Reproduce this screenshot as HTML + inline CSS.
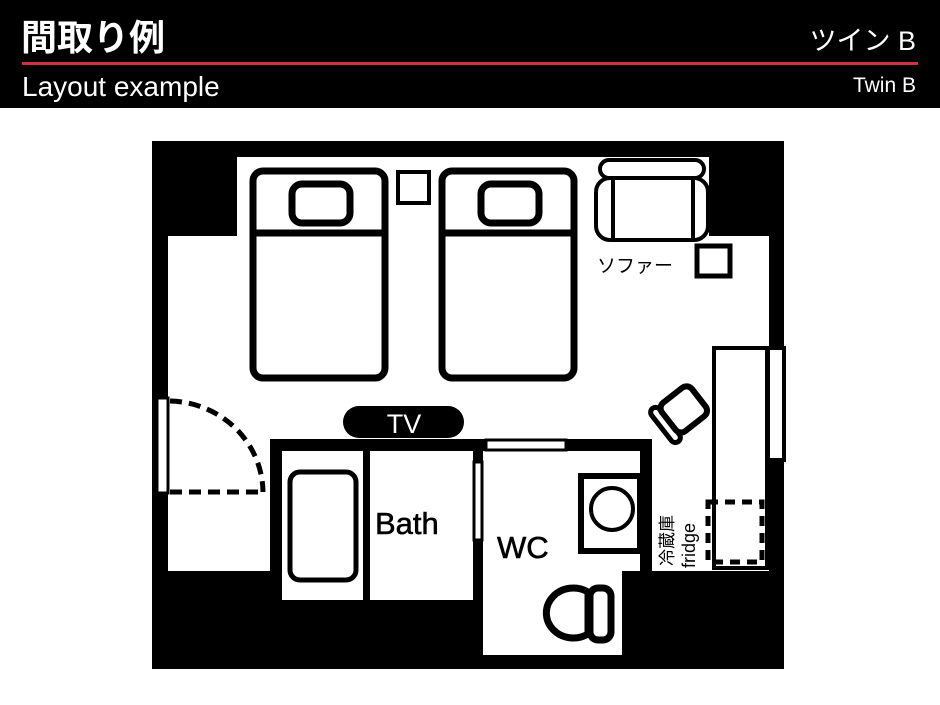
<!DOCTYPE html>
<html><head><meta charset="utf-8"><style>
html,body{margin:0;padding:0;background:#fff;width:940px;height:705px;overflow:hidden}
</style></head><body>
<svg width="940" height="705" xmlns="http://www.w3.org/2000/svg" font-family="Liberation Sans, Noto Sans CJK JP, sans-serif">
<rect x="0" y="0" width="940" height="108" fill="#000"/>
<text x="21" y="50" fill="#fff" font-size="36" font-weight="bold" font-family="Noto Sans CJK JP, sans-serif">間取り例</text>
<text x="916" y="50" fill="#fff" font-size="27" text-anchor="end" font-family="Liberation Sans, Noto Sans CJK JP, sans-serif">ツイン B</text>
<rect x="22" y="62" width="896" height="3" fill="#d03040"/>
<text x="22" y="96" fill="#fff" font-size="28">Layout example</text>
<text x="916" y="92" fill="#fff" font-size="21" text-anchor="end">Twin B</text>

<rect x="152" y="141" width="632" height="528" fill="#000"/>
<polygon points="237,157 709,157 709,236 769,236 769,571 652,571 652,439 270,439 270,571 168,571 168,236 237,236" fill="#fff"/>
<rect x="282" y="451" width="81" height="149" fill="#fff"/>
<rect x="370" y="451" width="103" height="149" fill="#fff"/>
<polygon points="483,451 640,451 640,571 622,571 622,655 483,655" fill="#fff"/>

<g fill="none" stroke="#000" stroke-width="7">
<rect x="253" y="171" width="132" height="207" rx="10"/>
<line x1="253" y1="233" x2="385" y2="233"/>
<rect x="292" y="184" width="58" height="39" rx="10"/>
<rect x="442" y="171" width="132" height="207" rx="10"/>
<line x1="442" y1="233" x2="574" y2="233"/>
<rect x="481" y="184" width="58" height="39" rx="10"/>
</g>
<rect x="398" y="172" width="31" height="31" fill="none" stroke="#000" stroke-width="4"/>
<g fill="none" stroke="#000" stroke-width="4">
<rect x="600" y="160" width="104" height="18" rx="9"/>
<rect x="596" y="178" width="112" height="62" rx="14"/>
<line x1="613" y1="180" x2="613" y2="240"/>
<line x1="693" y1="180" x2="693" y2="240"/>
</g>
<rect x="697" y="246" width="33" height="30" fill="none" stroke="#000" stroke-width="5"/>
<text x="597" y="272" font-size="19" font-family="Noto Sans CJK JP, sans-serif">ソファー</text>

<rect x="343" y="406" width="121" height="32" rx="16" fill="#000"/>
<text x="404" y="433" fill="#fff" font-size="27" text-anchor="middle">TV</text>

<rect x="157" y="398" width="11" height="95" fill="#fff" stroke="#000" stroke-width="3"/>
<g fill="none" stroke="#000" stroke-width="5" stroke-dasharray="12,7">
<path d="M170,401 A95,92 0 0 1 263,492"/>
<line x1="170" y1="492" x2="265" y2="492"/>
</g>

<rect x="290" y="472" width="66" height="108" rx="10" fill="none" stroke="#000" stroke-width="5"/>
<text x="375" y="534" font-size="31" stroke="#000" stroke-width="0.6">Bath</text>
<rect x="474" y="462" width="8" height="78" fill="#fff" stroke="#000" stroke-width="3"/>
<rect x="486" y="440" width="80" height="10" fill="#fff" stroke="#000" stroke-width="3"/>

<text x="497" y="558" font-size="31" stroke="#000" stroke-width="0.6">WC</text>
<rect x="581" y="476" width="59" height="75" fill="none" stroke="#000" stroke-width="6"/>
<circle cx="612" cy="509" r="21" fill="none" stroke="#000" stroke-width="4"/>
<g fill="none" stroke="#000" stroke-width="7">
<path d="M588,592 A27,25 0 1 0 588,634 Z"/>
<rect x="590" y="588" width="21" height="52" rx="8"/>
</g>

<rect x="714" y="348" width="53" height="220" fill="#fff" stroke="#000" stroke-width="4"/>
<rect x="768" y="348" width="16" height="112" fill="#fff" stroke="#000" stroke-width="4"/>
<g transform="translate(683,410) rotate(-38)">
<rect x="-18" y="-18" width="38" height="36" rx="7" fill="none" stroke="#000" stroke-width="6"/>
<rect x="-28" y="-20" width="10" height="42" rx="5" fill="none" stroke="#000" stroke-width="5"/>
</g>
<rect x="708" y="502" width="54" height="60" fill="none" stroke="#000" stroke-width="5" stroke-dasharray="10,7"/>
<text transform="translate(673,566) rotate(-90)" font-size="17" font-family="Noto Sans CJK JP, sans-serif">冷蔵庫</text>
<text transform="translate(695,568) rotate(-90)" font-size="18">fridge</text>
</svg>
</body></html>
